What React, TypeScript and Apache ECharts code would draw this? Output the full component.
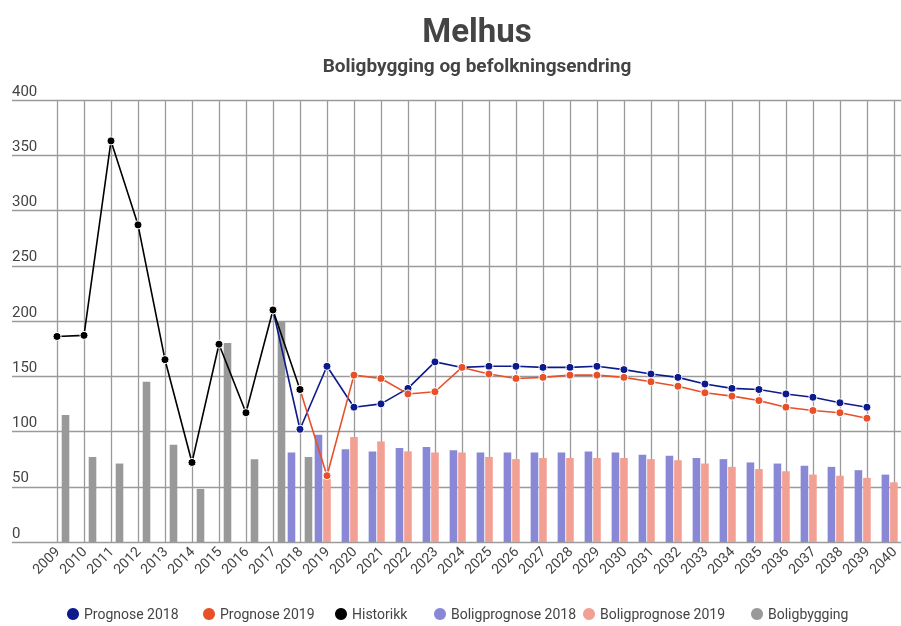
import React, { useEffect, useRef } from "react";
import * as echarts from "echarts";

const years = [
  "2009", "2010", "2011", "2012", "2013", "2014", "2015", "2016", "2017", "2018",
  "2019", "2020", "2021", "2022", "2023", "2024", "2025", "2026", "2027", "2028",
  "2029", "2030", "2031", "2032", "2033", "2034", "2035", "2036", "2037", "2038",
  "2039", "2040",
];

const historikk = [186, 187, 363, 287, 165, 72, 179, 117, 210, 138,
  null, null, null, null, null, null, null, null, null, null,
  null, null, null, null, null, null, null, null, null, null, null, null];

const prognose2018 = [null, null, null, null, null, null, null, null, 210, 102,
  159, 122, 125, 139, 163, 158, 159, 159, 158, 158,
  159, 156, 152, 149, 143, 139, 138, 134, 131, 126, 122, null];

const prognose2019 = [null, null, null, null, null, null, null, null, null, 138,
  60, 151, 148, 134, 136, 158, 152, 148, 149, 151,
  151, 149, 145, 141, 135, 132, 128, 122, 119, 117, 112, null];

const boligprognose2018 = [null, null, null, null, null, null, null, null, null, 81,
  97, 84, 82, 85, 86, 83, 81, 81, 81, 81,
  82, 81, 79, 78, 76, 75, 72, 71, 69, 68, 65, 61];

const boligprognose2019 = [null, null, null, null, null, null, null, null, null, null,
  57, 95, 91, 82, 81, 81, 77, 75, 76, 76,
  76, 76, 75, 74, 71, 68, 66, 64, 61, 60, 58, 54];

const boligbygging = [115, 77, 71, 145, 88, 48, 180, 75, 200, 77,
  null, null, null, null, null, null, null, null, null, null,
  null, null, null, null, null, null, null, null, null, null, null, null];

const yTicks = { min: 0, max: 400, interval: 50 };

const legendNames = [
  "Prognose 2018", "Prognose 2019", "Historikk",
  "Boligprognose 2018", "Boligprognose 2019", "Boligbygging",
];

const NAVY = "#0c1a8c";
const ORANGE = "#e8502a";
const BLUE_BAR = "#8888d6";
const PINK_BAR = "#f2a094";
const GRAY_BAR = "#999999";
const TEXT = "#444444";
const GRID = "#9a9a9a";

export default function App() {
  const ref = useRef<HTMLDivElement>(null);

  useEffect(() => {
    if (!ref.current) return;
    const chart = echarts.init(ref.current, null, { renderer: "svg" });
    const font = "Roboto, sans-serif";

    const lineSeries = (name: string, data: (number | null)[], color: string) => ({
      name,
      type: "line",
      xAxisIndex: 0,
      yAxisIndex: 0,
      data,
      connectNulls: false,
      symbol: "circle",
      symbolSize: 8,
      showAllSymbol: true,
      lineStyle: { color, width: 1.6 },
      itemStyle: { color, borderColor: "#ffffff", borderWidth: 1 },
      z: 3,
    });

    const barSeries = (name: string, data: (number | null)[], color: string) => ({
      name,
      type: "bar",
      xAxisIndex: 0,
      yAxisIndex: 0,
      data,
      barWidth: 7.6,
      barGap: "12%",
      itemStyle: { color },
      z: 2,
    });

    const legendColors: Record<string, string> = {
      "Prognose 2018": NAVY,
      "Prognose 2019": ORANGE,
      Historikk: "#000000",
      "Boligprognose 2018": BLUE_BAR,
      "Boligprognose 2019": PINK_BAR,
      Boligbygging: GRAY_BAR,
    };
    const legendLefts = [67, 203, 335, 434, 583, 751];

    chart.setOption({
      animation: false,
      textStyle: { fontFamily: font },
      graphic: [
        {
          type: "text",
          x: 477,
          y: 30,
          style: {
            text: "Melhus",
            textAlign: "center",
            textVerticalAlign: "middle",
            font: `bold 33px ${font}`,
            fill: TEXT,
          },
        },
        {
          type: "text",
          x: 477,
          y: 65,
          style: {
            text: "Boligbygging og befolkningsendring",
            textAlign: "center",
            textVerticalAlign: "middle",
            font: `bold 19px ${font}`,
            fill: TEXT,
          },
        },
      ],
      legend: legendNames.map((name, i) => ({
        top: 607,
        left: legendLefts[i],
        icon: "circle",
        itemWidth: 12,
        itemHeight: 12,
        padding: 0,
        textStyle: { color: TEXT, fontSize: 14, fontFamily: font },
        data: [{ name, itemStyle: { color: legendColors[name], borderWidth: 0 } }],
      })),
      grid: [
        { left: 57, right: 4, top: 100, height: 442, containLabel: false },
        { left: 12, right: 0, top: 100, height: 442, containLabel: false },
      ],
      xAxis: [
        {
          type: "category",
          gridIndex: 0,
          data: years,
          boundaryGap: false,
          axisLine: { show: false },
          axisTick: { show: false },
          axisLabel: {
            interval: 0,
            rotate: 45,
            margin: 7,
            color: TEXT,
            fontSize: 14,
            fontFamily: font,
          },
          splitLine: { show: true, interval: 0, lineStyle: { color: GRID, width: 1.3 } },
        },
        {
          type: "value",
          gridIndex: 1,
          min: 0,
          max: 1,
          show: false,
        },
      ],
      yAxis: [
        {
          type: "value",
          gridIndex: 0,
          min: yTicks.min,
          max: yTicks.max,
          interval: yTicks.interval,
          show: false,
          splitLine: { show: false },
        },
        {
          type: "value",
          gridIndex: 1,
          min: yTicks.min,
          max: yTicks.max,
          interval: yTicks.interval,
          axisLine: { show: false },
          axisTick: { show: false },
          axisLabel: {
            inside: true,
            margin: 0,
            align: "left",
            verticalAlign: "bottom",
            padding: [0, 0, 2, 0],
            color: TEXT,
            fontSize: 15,
            fontFamily: font,
          },
          splitLine: { show: true, lineStyle: { color: GRID, width: 1.3 } },
        },
      ],
      series: [
        barSeries("Boligprognose 2018", boligprognose2018, BLUE_BAR),
        barSeries("Boligprognose 2019", boligprognose2019, PINK_BAR),
        barSeries("Boligbygging", boligbygging, GRAY_BAR),
        lineSeries("Prognose 2018", prognose2018, NAVY),
        lineSeries("Prognose 2019", prognose2019, ORANGE),
        lineSeries("Historikk", historikk, "#000000"),
      ],
    });

    return () => chart.dispose();
  }, []);

  return (
    <div
      ref={ref}
      style={{ position: "fixed", left: 0, top: 0, width: 901, height: 626 }}
    />
  );
}
